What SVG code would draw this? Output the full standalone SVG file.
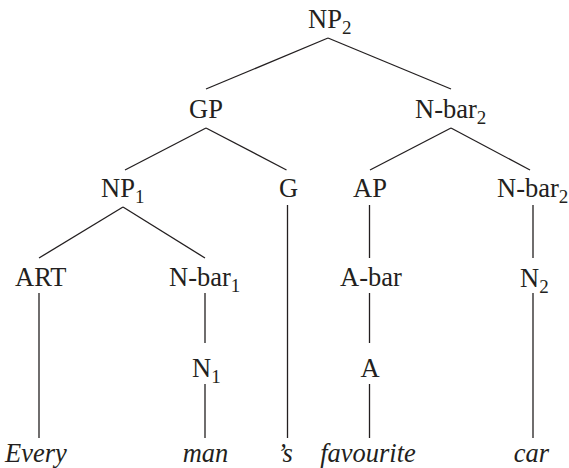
<svg xmlns="http://www.w3.org/2000/svg" width="569" height="468" viewBox="0 0 569 468">
<style>
.lbl{font-family:"Liberation Serif","Times New Roman",serif;font-size:26.5px;fill:#231f20}
.sub{font-size:19px}
.word{font-family:"Liberation Serif","Times New Roman",serif;font-size:26.5px;font-style:italic;fill:#231f20;text-anchor:middle}
#connectors line{stroke:#231f20;stroke-width:1.3;fill:none}
</style>
<rect width="569" height="468" fill="#ffffff"/>
<g id="connectors">
<line x1="328" y1="38" x2="206" y2="89"/>
<line x1="328" y1="38" x2="451" y2="89"/>
<line x1="206" y1="128" x2="125" y2="170"/>
<line x1="206" y1="128" x2="286.5" y2="170"/>
<line x1="451" y1="128" x2="370" y2="170"/>
<line x1="451" y1="128" x2="530" y2="170"/>
<line x1="123" y1="207" x2="39" y2="258"/>
<line x1="123" y1="207" x2="205" y2="258"/>
<line x1="287.5" y1="205" x2="287.5" y2="438"/>
<line x1="369.5" y1="205" x2="369.5" y2="258"/>
<line x1="533" y1="205" x2="533" y2="258"/>
<line x1="39" y1="293" x2="39" y2="438"/>
<line x1="205" y1="293" x2="205" y2="343"/>
<line x1="369.5" y1="293" x2="369.5" y2="343"/>
<line x1="533" y1="293" x2="533" y2="438"/>
<line x1="205" y1="384" x2="205" y2="438"/>
<line x1="369.5" y1="384" x2="369.5" y2="438"/>
</g>
<g id="np2"><text class="lbl" x="308" y="28">NP<tspan class="sub" dy="6">2</tspan></text></g>
<g id="gp"><text class="lbl" x="189" y="118">GP</text></g>
<g id="nbar2-top"><text class="lbl" x="415" y="118">N-bar<tspan class="sub" dy="6">2</tspan></text></g>
<g id="np1"><text class="lbl" x="101" y="197">NP<tspan class="sub" dy="6">1</tspan></text></g>
<g id="g"><text class="lbl" x="279" y="197">G</text></g>
<g id="ap"><text class="lbl" x="353" y="197">AP</text></g>
<g id="nbar2-right"><text class="lbl" x="497" y="197">N-bar<tspan class="sub" dy="6">2</tspan></text></g>
<g id="art"><text class="lbl" x="15" y="286">ART</text></g>
<g id="nbar1"><text class="lbl" x="169" y="286">N-bar<tspan class="sub" dy="6">1</tspan></text></g>
<g id="abar"><text class="lbl" x="340" y="286">A-bar</text></g>
<g id="n2"><text class="lbl" x="520" y="286.5">N<tspan class="sub" dy="6">2</tspan></text></g>
<g id="n1"><text class="lbl" x="192" y="376.5">N<tspan class="sub" dy="6">1</tspan></text></g>
<g id="a"><text class="lbl" x="360.5" y="376.5">A</text></g>
<g id="w-every"><text class="word" x="36" y="462">Every</text></g>
<g id="w-man"><text class="word" x="205.5" y="462">man</text></g>
<g id="w-s"><text class="word" x="285" y="462">’s</text></g>
<g id="w-favourite"><text class="word" x="368" y="462">favourite</text></g>
<g id="w-car"><text class="word" x="531.5" y="462">car</text></g>
</svg>
